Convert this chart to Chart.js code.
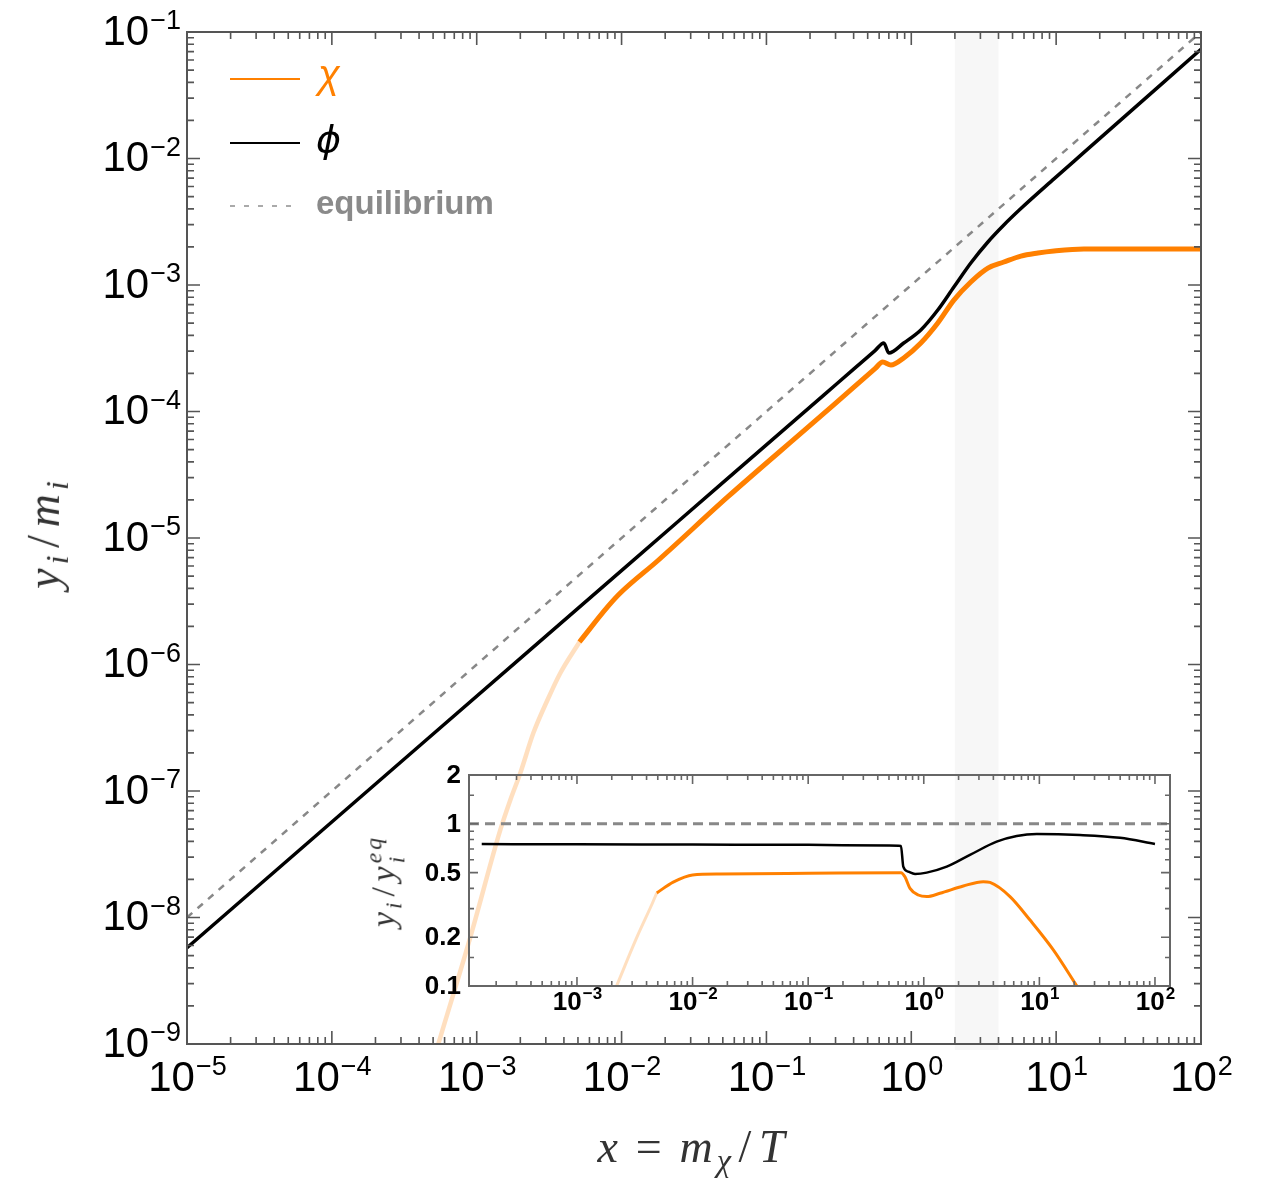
<!DOCTYPE html>
<html>
<head>
<meta charset="utf-8">
<script src="https://cdn.jsdelivr.net/npm/chart.js@4.4.1/dist/chart.umd.min.js"></script>
<style>
  html, body { margin: 0; padding: 0; background: #fff; }
  #wrap { position: relative; width: 1265px; height: 1184px; overflow: hidden; }
  #wrap canvas { position: absolute; left: 0; top: 0; }
  .ttl { position: absolute; font-family: 'Liberation Serif', serif; color: #333; white-space: nowrap; line-height: 1; }
  .ttl i { font-style: italic; }
  .ttl .sb { font-size: 0.7em; vertical-align: -0.28em; }
  .ttl .sl { margin: 0 0.08em; }
  .ttl .ss { display: inline-block; vertical-align: -0.4em; font-size: 0.7em; line-height: 0.95; font-style: italic; }
  .ttl .ss span { display: block; }
  #yTitle { left: 47px; top: 533px; font-size: 46px; letter-spacing: 4px; transform: translate(-50%, -50%) rotate(-90deg); }
  #xTitle { left: 693px; top: 1150px; font-size: 46px; letter-spacing: 4px; transform: translate(-50%, -50%); }
  #insetYTitle { left: 385px; top: 881px; font-size: 34px; letter-spacing: 3px; transform: translate(-50%, -50%) rotate(-90deg); }
</style>
</head>
<body>
<div id="wrap">
  <canvas id="mainChart" width="1265" height="1184"></canvas>
  <canvas id="insetChart" width="1265" height="1184"></canvas>
  <div class="ttl" id="yTitle"><i>y</i><span class="sb"><i>i</i></span><span class="sl">/</span><i>m</i><span class="sb"><i>i</i></span></div>
  <div class="ttl" id="xTitle"><i>x</i><span style="margin:0 0.3em">=</span><i>m</i><span class="sb"><i>χ</i></span><span class="sl">/</span><i>T</i></div>
  <div class="ttl" id="insetYTitle"><i>y</i><span class="sb"><i>i</i></span><span class="sl">/</span><i>y</i><span class="ss"><span>eq</span><span>i</span></span></div>
</div>
<script>
'use strict';

// ══════════════════════════════════════
// DATA
// ══════════════════════════════════════
// main panel: y_i/m_i against x = m_chi/T
var phiX = [1e-5, 4.07e-4, 1.21e-2, 4.82e-2, 0.251, 0.40, 0.562, 0.646, 0.700, 0.887, 1.164, 1.524, 1.968, 2.576, 3.38, 4.355, 5.71, 9.66, 15.56, 100];
var phiY = [5.77e-9, 2.30e-7, 6.68e-6, 2.64e-5, 1.36e-4, 2.16e-4, 3.03e-4, 3.48e-4, 2.90e-4, 3.48e-4, 4.41e-4, 6.34e-4, 9.64e-4, 1.493e-3, 2.188e-3, 2.98e-3, 4.02e-3, 6.90e-3, 1.117e-2, 7.31e-2];

var chiX = [5.12e-3, 8.0e-3, 9.8e-3, 1.80e-2, 5.4e-2, 0.2, 0.398, 0.562, 0.635, 0.723, 0.887, 1.164, 1.524, 1.968, 2.576, 3.38, 4.355, 5.71, 7.48, 9.66, 15.56, 100];
var chiY = [1.507e-6, 2.85e-6, 3.67e-6, 6.70e-6, 2.11e-5, 7.76e-5, 1.545e-4, 2.18e-4, 2.46e-4, 2.33e-4, 2.65e-4, 3.48e-4, 5.01e-4, 7.60e-4, 1.057e-3, 1.361e-3, 1.52e-3, 1.694e-3, 1.79e-3, 1.858e-3, 1.928e-3, 1.928e-3];

var chiEarlyX = [5.43e-4, 9.04e-4, 1.455e-3, 1.706e-3, 2.0e-3, 2.46e-3, 3.08e-3, 3.78e-3, 5.12e-3];
var chiEarlyY = [1e-9, 7.0e-9, 4.92e-8, 8.49e-8, 1.387e-7, 2.87e-7, 5.24e-7, 8.57e-7, 1.507e-6];

var eqX = [1e-5, 100];
var eqY = [1e-8, 0.1];

var bandX = [2, 4];                       // shaded strip

var mainXRange = [1e-5, 100];
var mainYRange = [1e-9, 0.1];
var mainXTicks = [1e-5, 1e-4, 1e-3, 1e-2, 1e-1, 1, 10, 100];
var mainYTicks = [1e-9, 1e-8, 1e-7, 1e-6, 1e-5, 1e-4, 1e-3, 1e-2, 1e-1];

// inset: y_i / y_i^eq
var insetPhiX = [1.5e-4, 1e-3, 1e-2, 0.1, 0.5, 0.635, 0.665, 0.735, 0.84, 1.06, 1.58, 2.51, 4.27, 6.37, 9.5, 22.4, 49.8, 100];
var insetPhiY = [0.75, 0.748, 0.745, 0.742, 0.735, 0.73, 0.544, 0.507, 0.491, 0.5, 0.544, 0.643, 0.776, 0.841, 0.865, 0.853, 0.82, 0.751];

var insetChiX = [4.9e-3, 6.8e-3, 1.0e-2, 1.74e-2, 0.1, 0.635, 0.687, 0.76, 0.895, 1.06, 1.38, 2.2, 3.27, 3.74, 5.57, 8.3, 13.2, 21.1];
var insetChiY = [0.375, 0.437, 0.484, 0.49, 0.495, 0.5, 0.471, 0.40, 0.364, 0.356, 0.373, 0.414, 0.44, 0.435, 0.356, 0.255, 0.167, 0.1];

var insetChiEarlyX = [2.2e-3, 3.3e-3, 4.5e-3, 4.9e-3];
var insetChiEarlyY = [0.1, 0.2, 0.325, 0.375];

var insetXRange = [1.164e-4, 134.9];
var insetYRange = [0.1, 2];
var insetEqX = [1.164e-4, 134.9];
var insetEqY = [1, 1];
var insetXTicks = [1e-3, 1e-2, 1e-1, 1, 10, 100];
var insetYTicks = [0.1, 0.2, 0.5, 1, 2];
var insetYTickLabels = ['0.1', '0.2', '0.5', '1', '2'];
var insetYMinor = [0.15, 0.3, 0.4, 0.6, 0.7, 0.8, 0.9, 1.5];

// ══════════════════════════════════════
// HELPERS
// ══════════════════════════════════════
var ORANGE = '#FF8000';
var ORANGE_FADED = 'rgba(255,128,0,0.25)';

function pts(xs, ys) {
  return xs.map(function(x, i){ return { x: x, y: ys[i] }; });
}

// 2..9 x 10^n positions inside a range, for the small frame ticks
function minorLogTicks(lo, hi) {
  var out = [];
  for (var e = Math.floor(Math.log10(lo)); e <= Math.ceil(Math.log10(hi)); e++) {
    for (var k = 2; k <= 9; k++) {
      var v = k * Math.pow(10, e);
      if (v >= lo && v <= hi) out.push(v);
    }
  }
  return out;
}

// "10" with a raised exponent
function drawPow(ctx, v, x, y, align, baseFont, expFont, rise) {
  var e = Math.round(Math.log10(v));
  var sup = (e < 0 ? '\u2212' : '') + Math.abs(e);
  ctx.font = baseFont; var wb = ctx.measureText('10').width;
  ctx.font = expFont;  var we = ctx.measureText(sup).width;
  var x0 = align === 'center' ? x - (wb + we) / 2 : x - (wb + we);
  ctx.textAlign = 'left';
  ctx.textBaseline = 'middle';
  ctx.font = baseFont;
  ctx.fillText('10', x0, y);
  ctx.textBaseline = 'alphabetic';
  ctx.font = expFont;
  ctx.fillText(sup, x0 + wb + 1, y - rise);
}

// Mathematica-like frame with inward ticks
function framePlugin(cfg) {
  return {
    id: 'frame_' + cfg.name,
    beforeDatasetsDraw: function(chart) {
      if (!cfg.band) return;
      var a = chart.chartArea, xs = chart.scales.x, ctx = chart.ctx;
      var x0 = xs.getPixelForValue(cfg.band[0]), x1 = xs.getPixelForValue(cfg.band[1]);
      ctx.save();
      ctx.fillStyle = '#f7f7f7';
      ctx.fillRect(x0, a.top, x1 - x0, a.bottom - a.top + 6);
      ctx.restore();
    },
    afterDatasetsDraw: function(chart) {
      var a = chart.chartArea, xs = chart.scales.x, ys = chart.scales.y, ctx = chart.ctx;
      ctx.save();
      ctx.strokeStyle = cfg.color;
      ctx.lineWidth = cfg.lw;
      ctx.strokeRect(a.left, a.top, a.right - a.left, a.bottom - a.top);

      ctx.lineWidth = cfg.lw * 0.8;
      ctx.beginPath();
      function xTick(v, len) {
        var p = xs.getPixelForValue(v);
        ctx.moveTo(p, a.bottom); ctx.lineTo(p, a.bottom - len);
        ctx.moveTo(p, a.top);    ctx.lineTo(p, a.top + len);
      }
      function yTick(v, len) {
        var p = ys.getPixelForValue(v);
        ctx.moveTo(a.left, p);  ctx.lineTo(a.left + len, p);
        ctx.moveTo(a.right, p); ctx.lineTo(a.right - len, p);
      }
      cfg.xMajor.forEach(function(v){ xTick(v, cfg.major); });
      cfg.xMinor.forEach(function(v){ xTick(v, cfg.minor); });
      cfg.yMajor.forEach(function(v){ yTick(v, cfg.major); });
      cfg.yMinor.forEach(function(v){ yTick(v, cfg.minor); });
      ctx.stroke();

      ctx.fillStyle = '#000';
      cfg.xMajor.forEach(function(v){ cfg.xLabel(ctx, v, xs.getPixelForValue(v), a); });
      cfg.yMajor.forEach(function(v, i){ cfg.yLabel(ctx, v, ys.getPixelForValue(v), a, i); });
      if (cfg.extra) cfg.extra(ctx, a);
      ctx.restore();
    }
  };
}

function drawLegend(ctx) {
  ctx.lineWidth = 2;
  ctx.strokeStyle = ORANGE;
  ctx.beginPath(); ctx.moveTo(230, 79); ctx.lineTo(300, 79); ctx.stroke();
  ctx.strokeStyle = '#000';
  ctx.beginPath(); ctx.moveTo(230, 143); ctx.lineTo(300, 143); ctx.stroke();
  ctx.strokeStyle = '#aaa';
  ctx.setLineDash([5, 9]);
  ctx.beginPath(); ctx.moveTo(230, 206); ctx.lineTo(300, 206); ctx.stroke();
  ctx.setLineDash([]);

  ctx.textAlign = 'left';
  ctx.textBaseline = 'alphabetic';
  ctx.font = "italic 40px 'Liberation Sans', sans-serif";
  ctx.fillStyle = ORANGE;
  ctx.fillText('χ', 318, 88);
  ctx.fillStyle = '#000';
  ctx.font = "italic 38px 'DejaVu Sans', sans-serif";
  ctx.fillText('ϕ', 316, 152);
  ctx.font = "bold 33px 'Liberation Sans', sans-serif";
  ctx.fillStyle = '#8a8a8a';
  ctx.fillText('equilibrium', 316, 214);
}

function lineSet(data, color, width, extra) {
  var ds = {
    data: data,
    borderColor: color,
    borderWidth: width,
    pointRadius: 0,
    fill: false,
    cubicInterpolationMode: 'monotone'
  };
  for (var k in extra) ds[k] = extra[k];
  return ds;
}

function baseOptions(padding, xr, yr) {
  return {
    responsive: false,
    animation: false,
    devicePixelRatio: 1,
    events: [],
    layout: { padding: padding },
    plugins: { legend: { display: false }, tooltip: { enabled: false } },
    scales: {
      x: { type: 'logarithmic', min: xr[0], max: xr[1], display: false },
      y: { type: 'logarithmic', min: yr[0], max: yr[1], display: false }
    }
  };
}

// ══════════════════════════════════════
// MAIN PANEL
// ══════════════════════════════════════
var MAIN_BASE = "42px 'Liberation Sans', Arial, sans-serif";
var MAIN_EXP  = "27px 'Liberation Sans', Arial, sans-serif";

new Chart(document.getElementById('mainChart'), {
  type: 'line',
  data: {
    datasets: [
      lineSet(pts(phiX, phiY), '#000', 3.5),
      lineSet(pts(chiX, chiY), ORANGE, 5),
      lineSet(pts(chiEarlyX, chiEarlyY), ORANGE_FADED, 4.5),
      lineSet(pts(eqX, eqY), '#888', 2.5, { borderDash: [7, 7] })
    ]
  },
  options: baseOptions({ left: 187, top: 32, right: 64, bottom: 140 }, mainXRange, mainYRange),
  plugins: [framePlugin({
    name: 'main', color: '#555', lw: 2, major: 13, minor: 7, band: bandX,
    xMajor: mainXTicks, xMinor: minorLogTicks(mainXRange[0], mainXRange[1]),
    yMajor: mainYTicks, yMinor: minorLogTicks(mainYRange[0], mainYRange[1]),
    xLabel: function(ctx, v, p) { drawPow(ctx, v, p, 1079, 'center', MAIN_BASE, MAIN_EXP, 4); },
    yLabel: function(ctx, v, p) { drawPow(ctx, v, 180, p + 1, 'right', MAIN_BASE, MAIN_EXP, 4); },
    extra: drawLegend
  })]
});

// ══════════════════════════════════════
// INSET
// ══════════════════════════════════════
var INSET_BASE = "bold 26px 'Liberation Sans', Arial, sans-serif";
var INSET_EXP  = "bold 17px 'Liberation Sans', Arial, sans-serif";

new Chart(document.getElementById('insetChart'), {
  type: 'line',
  data: {
    datasets: [
      lineSet(pts(insetPhiX, insetPhiY), '#000', 2.5),
      lineSet(pts(insetChiX, insetChiY), ORANGE, 3),
      lineSet(pts(insetChiEarlyX, insetChiEarlyY), ORANGE_FADED, 3),
      lineSet(pts(insetEqX, insetEqY), '#888', 3, { borderDash: [10, 6] })
    ]
  },
  options: baseOptions({ left: 469, top: 775, right: 95, bottom: 198 }, insetXRange, insetYRange),
  plugins: [framePlugin({
    name: 'inset', color: '#666', lw: 2, major: 9, minor: 5,
    xMajor: insetXTicks, xMinor: minorLogTicks(insetXRange[0], insetXRange[1]),
    yMajor: insetYTicks, yMinor: insetYMinor,
    xLabel: function(ctx, v, p) { drawPow(ctx, v, p, 1003, 'center', INSET_BASE, INSET_EXP, 4); },
    yLabel: function(ctx, v, p, a, i) {
      ctx.font = INSET_BASE;
      ctx.textAlign = 'right';
      ctx.textBaseline = 'middle';
      ctx.fillText(insetYTickLabels[i], 461, p + 1);
    }
  })]
});
</script>
</body>
</html>
